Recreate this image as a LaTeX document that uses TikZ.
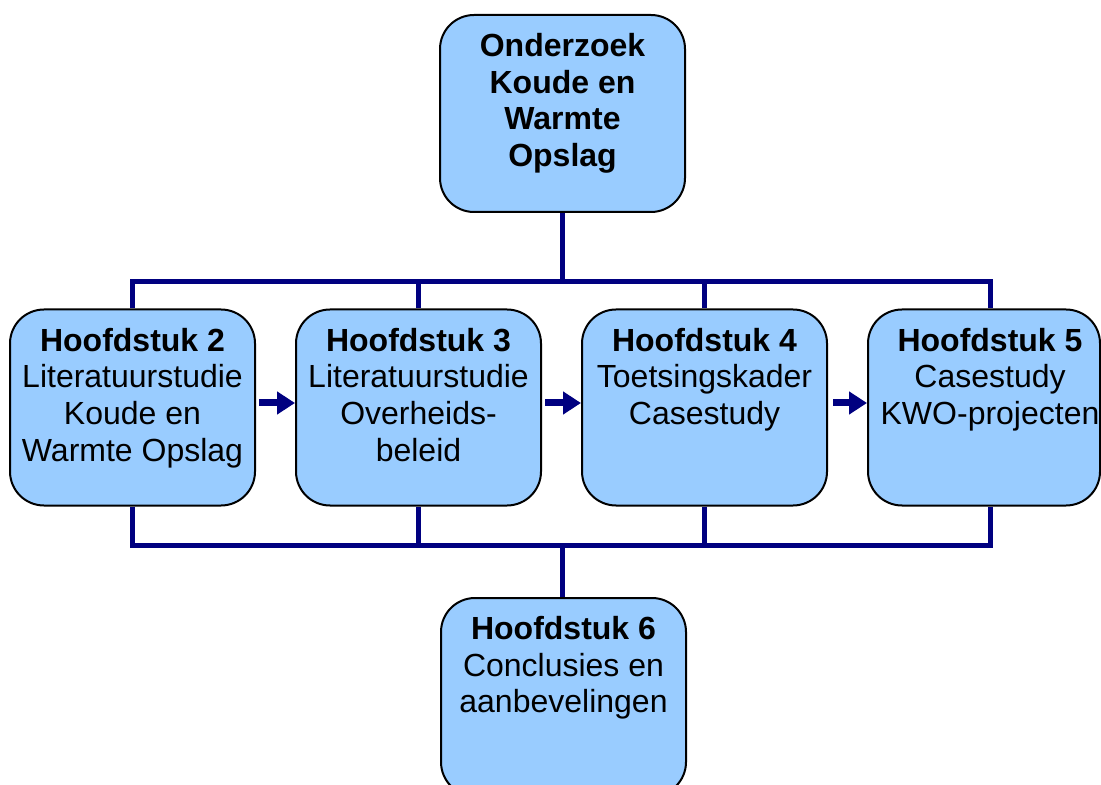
\documentclass[tikz,border=0pt]{standalone}
\usepackage{fontspec}
\setmainfont{Liberation Sans}
\usetikzlibrary{arrows.meta}
\usepackage{xcolor}
\definecolor{boxBlue}{RGB}{153,204,255}
\definecolor{busNavy}{RGB}{0,0,128}

\begin{document}
\begin{tikzpicture}[x=0.5pt, y=-0.5pt,
    chap/.style={draw=black, line width=1pt, fill=boxBlue, rounded corners=17pt,
      minimum width=122.5pt, minimum height=98pt, inner sep=0pt},
    chaptext/.style={anchor=north, align=center, inner sep=0pt,
      font=\fontsize{16}{18.3}\selectfont},
    bus/.style={draw=busNavy, line width=2.5pt},
    flow/.style={draw=busNavy, line width=3.5pt, -{Triangle[length=9pt,width=11pt]}}]
    \newcommand\topbus{282}
    \newcommand\botbus{545}
    \newcommand\textdrop{-9.6pt}

    \useasboundingbox (0,0) rectangle (1101,785);

    % boxes
    \node[chap, minimum height=98.5pt] (top) at (562.5,113.5) {};
    \node[chap] (h2) at (132.5,407.5) {};
    \node[chap] (h3) at (418.5,407.5) {};
    \node[chap] (h4) at (704.5,407.5) {};
    \node[chap, minimum width=116pt] (h5) at (984,407.5) {};
    \node[chap, minimum height=99pt] (h6) at (563.5,697) {};

    % texts
    \node[chaptext] (toptext) at ([yshift=\textdrop]top.north)
      {\textbf{Onderzoek}\\\textbf{Koude en}\\\textbf{Warmte}\\\textbf{Opslag}};
    \node[chaptext] (h2text) at ([yshift=\textdrop]h2.north)
      {\textbf{Hoofdstuk 2}\\Literatuurstudie\\Koude en\\Warmte Opslag};
    \node[chaptext] (h3text) at ([yshift=\textdrop]h3.north)
      {\textbf{Hoofdstuk 3}\\Literatuurstudie\\Overheids-\\beleid};
    \node[chaptext] (h4text) at ([yshift=\textdrop]h4.north)
      {\textbf{Hoofdstuk 4}\\Toetsingskader\\Casestudy};
    \node[chaptext] (h5text) at ([xshift=3pt,yshift=\textdrop]h5.north)
      {\textbf{Hoofdstuk 5}\\Casestudy\\KWO-projecten};
    \node[chaptext] (h6text) at ([yshift=\textdrop]h6.north)
      {\textbf{Hoofdstuk 6}\\Conclusies en\\aanbevelingen};

    % draw bus lines
    \coordinate (tj) at (562.5,\topbus);
    \coordinate (bj) at (562.5,\botbus);
    \coordinate (h5top) at ([xshift=3pt]h5.north);
    \coordinate (h5bot) at ([xshift=3pt]h5.south);
    \draw[bus] (top.south) -- (tj);
    \draw[bus] (h2.north) |- (tj) -| (h5top);
    \draw[bus] (h3.north) -- (h3.north |- tj);
    \draw[bus] (h4.north) -- (h4.north |- tj);
    \draw[bus] (h2.south) |- (bj) -| (h5bot);
    \draw[bus] (h3.south) -- (h3.south |- bj);
    \draw[bus] (h4.south) -- (h4.south |- bj);
    \draw[bus] (bj) -- (bj |- h6.north);

    % draw arrow
    \draw[flow] ([xshift=1.5pt,yshift=2.25pt]h2.east) -- ([yshift=2.25pt]h3.west);
    \draw[flow] ([xshift=1.5pt,yshift=2.25pt]h3.east) -- ([yshift=2.25pt]h4.west);
    \draw[flow] ([xshift=2.5pt,yshift=2.25pt]h4.east) -- ([yshift=2.25pt]h5.west);
\end{tikzpicture}
\end{document}
